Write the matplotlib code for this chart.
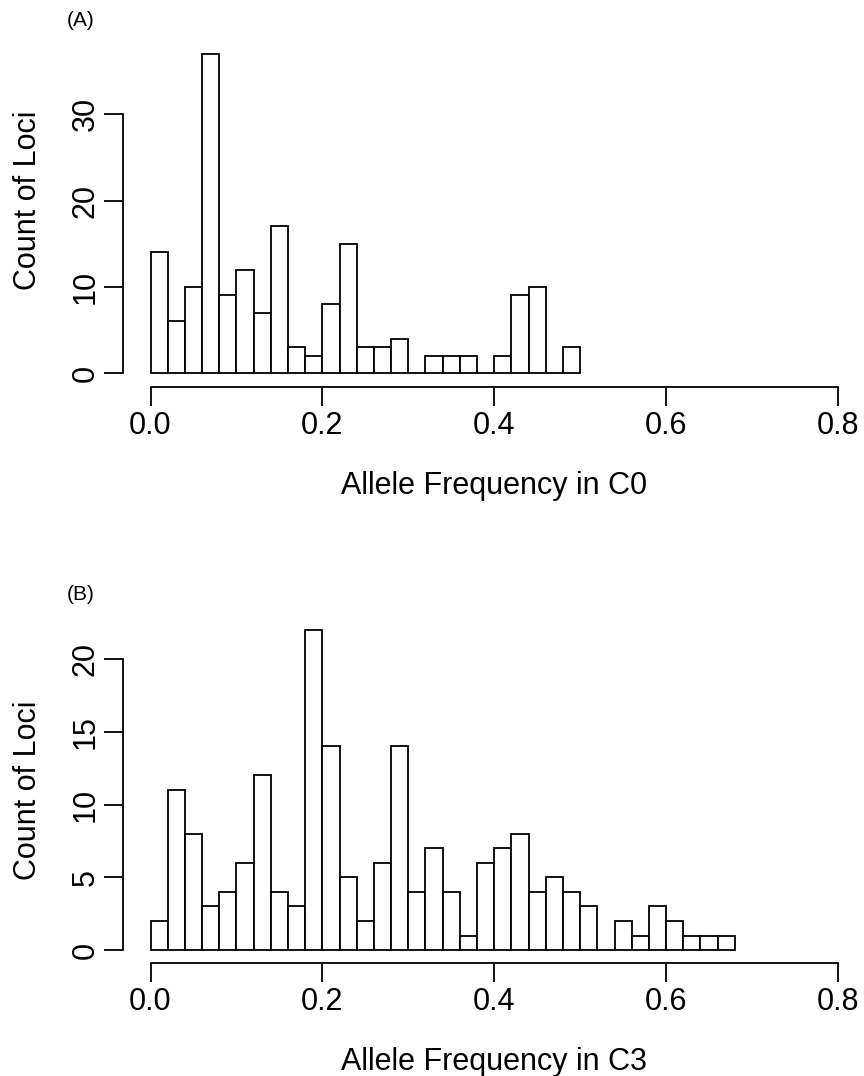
"""
Allele frequency histograms for C0 and C3, R base-graphics look
"""

import matplotlib
matplotlib.use("Agg")
import matplotlib.pyplot as plt
import numpy as np

plt.rcParams['font.family'] = ['Liberation Sans', 'DejaVu Sans']

# Histogram counts per bin (bin width 0.02, starting at 0.0)
BIN_WIDTH = 0.02
COUNTS_C0 = [14, 6, 10, 37, 9, 12, 7, 17, 3, 2, 8, 15, 3, 3, 4,
             0, 2, 2, 2, 0, 2, 9, 10, 0, 3]
COUNTS_C3 = [2, 11, 8, 3, 4, 6, 12, 4, 3, 22, 14, 5, 2, 6, 14, 4, 7,
             4, 1, 6, 7, 8, 4, 5, 4, 3, 0, 2, 1, 3, 2, 1, 1, 1]

X_TICKS = [0.0, 0.2, 0.4, 0.6, 0.8]
X_TICK_LABELS = ["0.0", "0.2", "0.4", "0.6", "0.8"]
Y_TICKS_C0 = [0, 10, 20, 30]
Y_TICKS_C3 = [0, 5, 10, 15, 20]

W, H = 864, 1076
FS = 22
LW = 1.3


def px_axes(fig, left, right, top, bottom):
    return fig.add_axes([left / W, 1 - bottom / H,
                         (right - left) / W, (bottom - top) / H])


def draw_panel(fig, ax, counts, yticks, ymax, xlabel, tag, tag_y, xlab_y):
    edges = np.arange(len(counts)) * BIN_WIDTH
    ax.bar(edges, counts, width=BIN_WIDTH, align='edge',
           facecolor='white', edgecolor='black', linewidth=LW)

    # R style 4% padding
    ax.set_xlim(-0.032, 0.8 + 0.032)
    ax.set_ylim(-0.04 * ymax, ymax * 1.04)

    for s in ['top', 'right']:
        ax.spines[s].set_visible(False)
    ax.spines['left'].set_bounds(yticks[0], yticks[-1])
    ax.spines['bottom'].set_bounds(0, 0.8)
    for s in ['left', 'bottom']:
        ax.spines[s].set_linewidth(LW)

    ax.set_xticks(X_TICKS)
    ax.set_xticklabels(X_TICK_LABELS)
    ax.set_yticks(yticks)
    ax.set_yticklabels([str(t) for t in yticks], rotation=90, va='center')
    ax.tick_params(direction='out', length=14, width=LW, labelsize=FS)
    ax.tick_params(axis='x', pad=3)
    ax.tick_params(axis='y', pad=2)

    pos = ax.get_position()
    cy = pos.y0 + pos.height / 2
    fig.text(28 / W, cy, "Count of Loci", rotation=90,
             ha='center', va='center', fontsize=FS)
    fig.text(494 / W, 1 - xlab_y / H, xlabel, ha='center', va='baseline',
             fontsize=FS)
    fig.text(67 / W, 1 - tag_y / H, tag, ha='left', va='center',
             fontsize=15)


def main():
    fig = plt.figure(figsize=(W / 100, H / 100), dpi=100, facecolor='white')

    ax_a = px_axes(fig, 123, 865.5, 14, 387)
    draw_panel(fig, ax_a, COUNTS_C0, Y_TICKS_C0, 40,
               "Allele Frequency in C0", "(A)", 21, 494)

    ax_b = px_axes(fig, 123, 865.5, 617, 963)
    draw_panel(fig, ax_b, COUNTS_C3, Y_TICKS_C3, 22,
               "Allele Frequency in C3", "(B)", 595, 1070)

    fig.savefig("out.png", dpi=100, facecolor='white')
    plt.close(fig)


if __name__ == "__main__":
    main()
